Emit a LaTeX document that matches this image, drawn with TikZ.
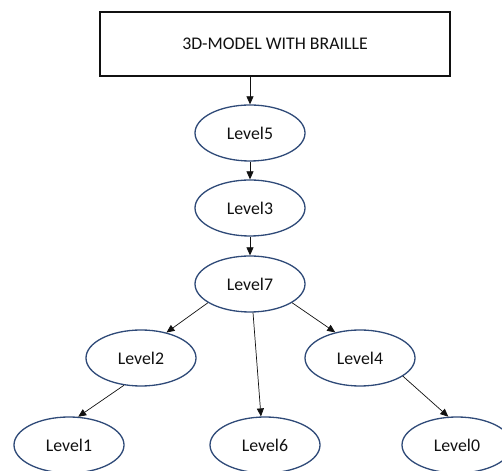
\documentclass[tikz,border=0pt]{standalone}
\usepackage{fontspec}
\setmainfont{Carlito}
\usetikzlibrary{arrows.meta,positioning,shapes.geometric}
\definecolor{btink}{HTML}{111111}
\definecolor{btnavy}{HTML}{2F4A78}
\tikzset{
  bt text/.style={font=\fontsize{17.8}{20}\selectfont, text=btink},
  bt box/.style={draw=btink, line width=1.2pt, fill=white,
    minimum width=350pt, minimum height=64pt, align=center},
  bt level/.style={ellipse, draw=btnavy, line width=1.3pt, fill=white,
    minimum width=110pt, minimum height=56pt, inner sep=0pt},
  bt arrow/.style={-{Triangle[length=8pt,width=7pt]}, line width=0.7pt,
    draw=btink}
}
\begin{document}
\begin{tikzpicture}[bt text, x=1pt, y=1pt]
  \useasboundingbox (0,0) rectangle (502,470);
  \node[bt box] (model) at (275,426) {3D-MODEL WITH BRAILLE};
  \node[bt level] (l5) at (250,337) {Level5};
  \node[bt level] (l3) at (250,262) {Level3};
  \node[bt level] (l7) at (250,186) {Level7};
  \node[bt level] (l2) at (141,112) {Level2};
  \node[bt level] (l4) at (360,112) {Level4};
  \node[bt level] (l1) at (69,25) {Level1};
  \node[bt level] (l6) at (265,25) {Level6};
  \node[bt level] (l0) at (457,25) {Level0};
  \draw[bt arrow] (model.south -| l5.north) -- (l5.north);
  \draw[bt arrow] (l5) -- (l3);
  \draw[bt arrow] (l3) -- (l7);
  \draw[bt arrow] (l7.204) -- (l2.45);
  \draw[bt arrow] (l7.276) -- (l6.98);
  \draw[bt arrow] (l7.336) -- (l4.134);
  \draw[bt arrow] (l2.238) -- (l1.72);
  \draw[bt arrow] (l4.337) -- (l0.107);
\end{tikzpicture}
\end{document}
